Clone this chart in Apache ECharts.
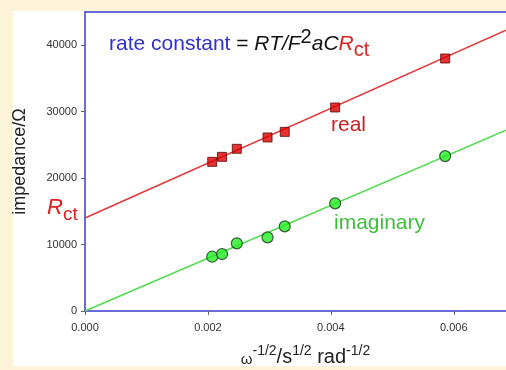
<!DOCTYPE html>
<html>
<head>
<meta charset="utf-8">
<script src="https://cdn.jsdelivr.net/npm/echarts@6/dist/echarts.min.js"></script>
<style>
html, body { margin: 0; padding: 0; background: #fdf3d8; }
#chart { width: 506px; height: 370px; }
</style>
</head>
<body>
<div id="chart"></div>
<script>
// impedance vs omega^-1/2
var omega = [0.00207, 0.00223, 0.00247, 0.00297, 0.00325, 0.00407, 0.00586];
var realZ = [22450, 23200, 24410, 26120, 26960, 30630, 38000];
var imagZ = [8170, 8570, 10180, 11080, 12740, 16200, 23310];
// fitted lines (end points)
var realFit = [[0, 13990], [0.00685, 42250]];
var imagFit = [[0, 0], [0.00685, 27220]];
var xTicks = [0, 0.002, 0.004, 0.006];
var yTicks = [0, 10000, 20000, 30000, 40000];

var font = 'Arial, "Liberation Sans", sans-serif';
var blue = '#3a3ad0';
var cream = '#fdf3d8';

function pairs(xs, ys) {
	return xs.map(function(x, i) { return [x, ys[i]]; });
}

var chart = echarts.init(document.getElementById('chart'));
chart.setOption({
	backgroundColor: cream,
	animation: false,
	textStyle: { fontFamily: font },
	grid: { left: 85, top: 12, right: 0, bottom: 59, outerBoundsMode: 'none', containLabel: false },
	graphic: [
		{ type: 'rect', z: -10, shape: { x: 13, y: 11, width: 493, height: 356 }, style: { fill: '#ffffff' } },
		// cream strip at the bottom that clips the axis title
		{ type: 'rect', z: 100, shape: { x: 0, y: 366, width: 506, height: 4 }, style: { fill: cream } },
		{
			type: 'text', left: 109, top: 27, z: 10,
			style: {
				text: '{b|rate constant }{k|= }{i|RT/F}{s|2}{i|aC}{r|R}{rs|ct}',
				rich: {
					b: { fill: '#3030d0', fontSize: 21, fontFamily: font, verticalAlign: 'bottom' },
					k: { fill: '#111', fontSize: 21, fontFamily: font, verticalAlign: 'bottom' },
					i: { fill: '#111', fontSize: 21, fontStyle: 'italic', fontFamily: font, verticalAlign: 'bottom' },
					s: { fill: '#111', fontSize: 20, fontFamily: font, verticalAlign: 'bottom', padding: [0, 0, 8, 0] },
					r: { fill: '#dd2020', fontSize: 21, fontStyle: 'italic', fontFamily: font, verticalAlign: 'bottom' },
					rs: { fill: '#dd2020', fontSize: 20, fontFamily: font, verticalAlign: 'bottom', padding: [0, 0, -5, 0] }
				}
			}
		},
		{ type: 'text', left: 331, top: 115, z: 10, style: { text: 'real', fill: '#cc2020', fontSize: 21, fontFamily: font } },
		{ type: 'text', left: 334, top: 213, z: 10, style: { text: 'imaginary', fill: '#3cbf3c', fontSize: 21, fontFamily: font } },
		{
			type: 'text', left: 47, top: 197, z: 10,
			style: {
				text: '{r|R}{s|ct}',
				rich: {
					r: { fill: '#dd2020', fontSize: 22, fontStyle: 'italic', fontFamily: font, verticalAlign: 'bottom' },
					s: { fill: '#dd2020', fontSize: 19, fontFamily: font, verticalAlign: 'bottom', padding: [0, 0, -5, 0] }
				}
			}
		}
	],
	xAxis: [{
		type: 'value',
		min: 0,
		max: 0.00685,
		name: '{w|ω}{p|-1/2}{t|/s}{p|1/2}{t| rad}{p|-1/2}',
		nameLocation: 'middle',
		nameGap: 33,
		nameTextStyle: {
			padding: [0, 0, 0, 20],
			rich: {
				w: { fontSize: 15, color: '#222', fontFamily: font, verticalAlign: 'bottom' },
				t: { fontSize: 20, color: '#222', fontFamily: font, verticalAlign: 'bottom' },
				p: { fontSize: 14, color: '#222', fontFamily: font, verticalAlign: 'bottom', padding: [0, 0, 9, 0] }
			}
		},
		splitLine: { show: false },
		axisLine: { lineStyle: { color: blue, width: 1.5 } },
		axisTick: { customValues: xTicks, length: 4, lineStyle: { color: '#666' } },
		axisLabel: {
			customValues: xTicks,
			color: '#333', fontSize: 11, margin: 11,
			formatter: function(v) { return v.toFixed(3); }
		}
	}, {
		type: 'value',
		position: 'top',
		min: 0,
		max: 0.00685,
		splitLine: { show: false },
		axisLine: { show: true, lineStyle: { color: blue, width: 1.5 } },
		axisTick: { show: false },
		axisLabel: { show: false }
	}],
	yAxis: {
		type: 'value',
		min: 0,
		max: 45000,
		name: 'impedance/Ω',
		nameLocation: 'middle',
		nameGap: 56,
		nameTextStyle: { fontSize: 18, color: '#222', fontFamily: font },
		splitLine: { show: false },
		axisLine: { show: true, lineStyle: { color: blue, width: 1.5 } },
		axisTick: { customValues: yTicks, length: 4, lineStyle: { color: '#666' } },
		axisLabel: {
			customValues: yTicks, color: '#333', fontSize: 11, margin: 8,
			formatter: function(v) { return String(v); }
		}
	},
	series: [
		{
			type: 'line', data: realFit, symbol: 'none', z: 2,
			lineStyle: { color: '#e03a3a', width: 1.5 }
		},
		{
			type: 'line', data: imagFit, symbol: 'none', z: 2,
			lineStyle: { color: '#4fdc4f', width: 1.5 }
		},
		{
			type: 'scatter', data: pairs(omega, realZ), symbol: 'rect', symbolSize: 9, z: 3,
			itemStyle: { color: '#dd0000', borderColor: '#5a0808', borderWidth: 1 }
		},
		{
			type: 'scatter', data: pairs(omega, imagZ), symbol: 'circle', symbolSize: 11, z: 3,
			itemStyle: { color: '#22ee22', borderColor: '#1a3a1a', borderWidth: 1.2 }
		}
	]
});
</script>
</body>
</html>
